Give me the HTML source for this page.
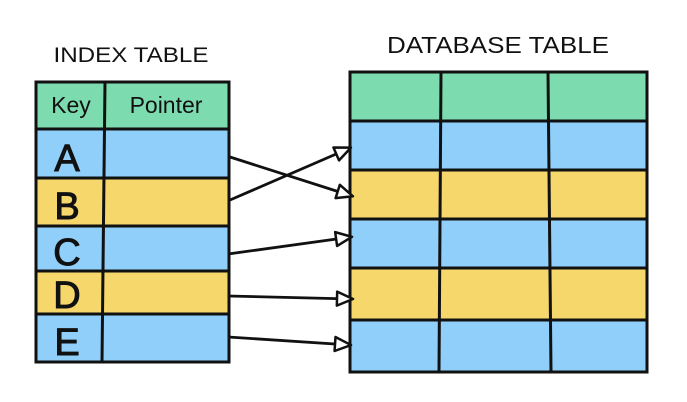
<!DOCTYPE html>
<html><head><style>
html,body{margin:0;padding:0;background:#fff;}
svg{display:block}
text{font-family:"Liberation Sans",sans-serif;fill:#111}
</style></head><body>
<svg width="687" height="402" viewBox="0 0 687 402" xmlns="http://www.w3.org/2000/svg">
<defs>
<marker id="ah" markerWidth="20" markerHeight="20" refX="17" refY="10" orient="auto" markerUnits="userSpaceOnUse">
<path d="M2,3 L18,10 L2,17 Z" fill="#fff" stroke="#111" stroke-width="2.5" stroke-linejoin="round"/>
</marker>
</defs>
<text x="131" y="62" font-size="21" text-anchor="middle" textLength="155" lengthAdjust="spacingAndGlyphs">INDEX TABLE</text>
<text x="498" y="53" font-size="23" text-anchor="middle" textLength="222" lengthAdjust="spacingAndGlyphs">DATABASE TABLE</text>

<!-- index table -->
<g stroke="#111" stroke-width="3">
<rect x="36" y="82" width="193" height="47" fill="#7ddbb0"/>
<rect x="36" y="129" width="193" height="49" fill="#8fcff9"/>
<rect x="36" y="178" width="193" height="48" fill="#f5d76c"/>
<rect x="36" y="226" width="193" height="45" fill="#8fcff9"/>
<rect x="36" y="271" width="193" height="43" fill="#f5d76c"/>
<rect x="36" y="314" width="193" height="48" fill="#8fcff9"/>
<line x1="105" y1="82" x2="102" y2="362"/>
</g>
<text x="71" y="113" font-size="23" text-anchor="middle">Key</text>
<text x="166" y="113" font-size="23" text-anchor="middle">Pointer</text>
<g font-size="38" stroke="#111" stroke-width="1">
<text x="67" y="171" text-anchor="middle">A</text>
<text x="67" y="219" text-anchor="middle">B</text>
<text x="67" y="265" text-anchor="middle">C</text>
<text x="67" y="308" text-anchor="middle">D</text>
<text x="67" y="355" text-anchor="middle">E</text>
</g>

<!-- db table -->
<g stroke="#111" stroke-width="3">
<rect x="350" y="72" width="297" height="49" fill="#7ddbb0"/>
<rect x="350" y="121" width="297" height="49" fill="#8fcff9"/>
<rect x="350" y="170" width="297" height="49" fill="#f5d76c"/>
<rect x="350" y="219" width="297" height="49" fill="#8fcff9"/>
<rect x="350" y="268" width="297" height="52" fill="#f5d76c"/>
<rect x="350" y="320" width="297" height="52" fill="#8fcff9"/>
<line x1="441" y1="72" x2="439" y2="372"/>
<line x1="548" y1="72" x2="551" y2="372"/>
</g>

<!-- arrows -->
<g stroke="#111" stroke-width="2.8" fill="none" marker-end="url(#ah)">
<line x1="230" y1="157" x2="352" y2="196"/>
<line x1="230" y1="200" x2="350" y2="148"/>
<line x1="228" y1="254" x2="351" y2="237"/>
<line x1="228" y1="296" x2="352" y2="299"/>
<line x1="228" y1="337" x2="350" y2="345"/>
</g>
</svg>
</body></html>
